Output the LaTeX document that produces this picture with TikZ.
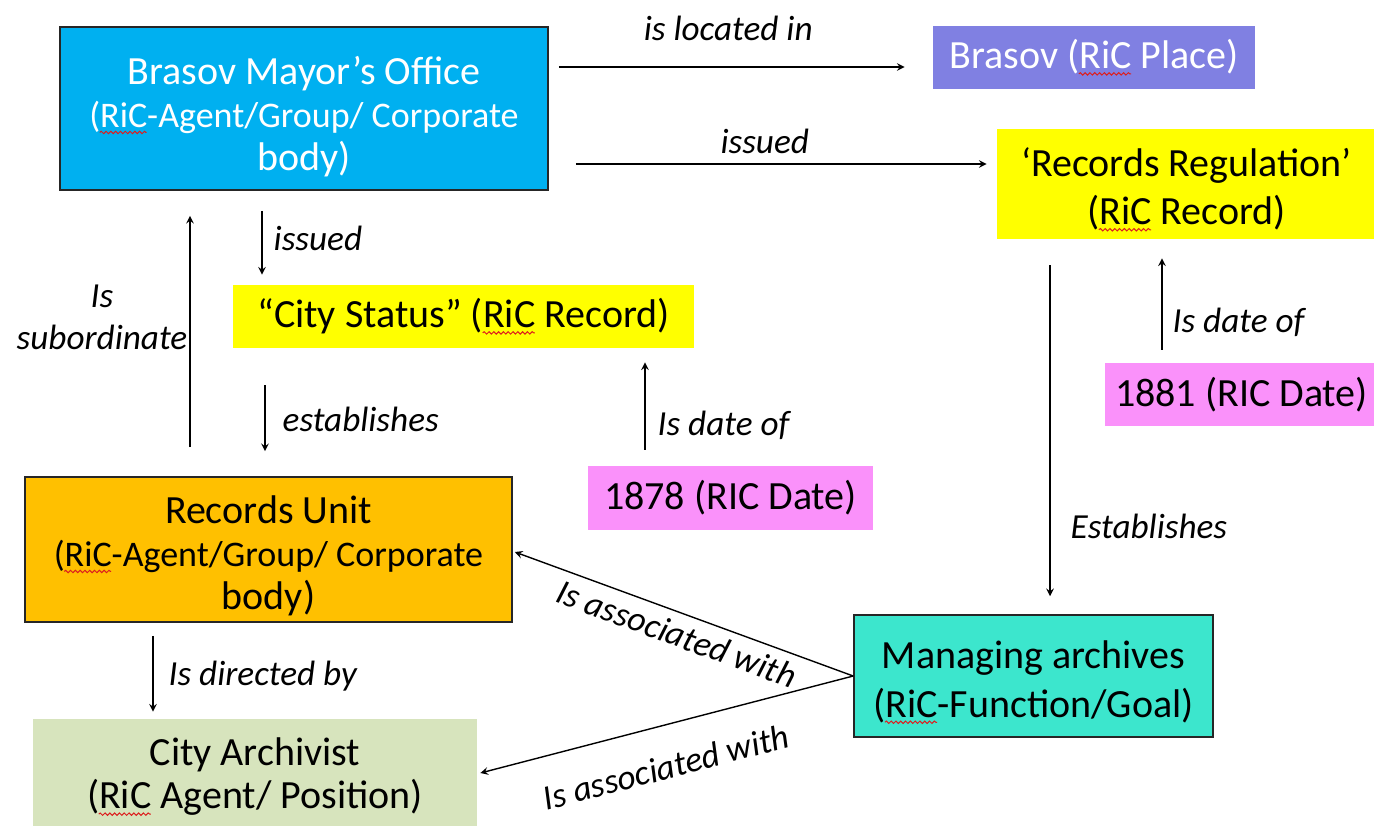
\documentclass[tikz,border=0pt]{standalone}
\usepackage{fontspec}
\setmainfont{Carlito}
\usepackage{xcolor}
\usepackage{tikz}
\usetikzlibrary{positioning,arrows,decorations.pathmorphing}
\definecolor{mayorblue}{RGB}{0,176,240}
\definecolor{placeviolet}{RGB}{128,128,226}
\definecolor{recyellow}{RGB}{255,255,0}
\definecolor{datepink}{RGB}{250,145,250}
\definecolor{unitorange}{RGB}{255,192,0}
\definecolor{functurq}{RGB}{60,230,205}
\definecolor{postgreen}{RGB}{215,228,189}
\definecolor{spellred}{RGB}{220,30,30}
\newsavebox{\wavebox}
\newcommand{\spellwave}[1]{\sbox{\wavebox}{#1}\usebox{\wavebox}\llap{\tikz[x=1pt,y=1pt,baseline=0pt]
  \draw[spellred,line width=0.5pt,decorate,decoration={snake,amplitude=0.6pt,segment length=2.4pt}]
  (0,-2.6) -- (\the\wd\wavebox,-2.6);}}
\newcommand{\topgap}[1]{\rule{0pt}{#1}}
\newcommand{\sublines}{\fontsize{18}{21.5}\selectfont}

\begin{document}
\begin{tikzpicture}[
    x=0.5pt,y=-0.5pt,
    box/.style={align=center,inner sep=1pt,font=\fontsize{20}{21.5}\selectfont},
    edged/.style={box,draw=black!85,line width=0.8pt},
    arrow/.style={->,>=stealth,line width=0.7pt},
    lbl/.style={inner sep=0pt,font=\fontsize{17.6}{21}\selectfont\itshape}
  ]
    \path[use as bounding box,clip] (0,0) rectangle (1374,825);
    % entities
    \node[edged,fill=mayorblue,text=white,minimum width=244pt,minimum height=81.5pt] (mayor) at (304,108.5)
      {\topgap{22pt}Brasov Mayor’s Office\\\sublines(\spellwave{RiC}-Agent/Group/ Corporate\\body)};
    \node[box,fill=placeviolet,text=white,minimum width=161pt,minimum height=31.5pt] (place) at (1094,57.5)
      {Brasov (\spellwave{RiC} Place)};
    \node[box,fill=recyellow,minimum width=189.5pt,minimum height=55pt] (regulation) at (1186.5,184)
      {\topgap{20pt}‘Records Regulation’\\[2.5pt](\spellwave{RiC} Record)};
    \node[box,fill=recyellow,minimum width=230.5pt,minimum height=31.5pt] (citystatus) at (463.5,316.5)
      {“City Status” (\spellwave{RiC} Record)};
    \node[box,fill=datepink,minimum width=136.5pt,minimum height=31.5pt] (date1881) at (1241.5,394.5)
      {1881 (RIC Date)};
    \node[box,fill=datepink,minimum width=142.5pt,minimum height=32pt] (date1878) at (730.5,498)
      {1878 (RIC Date)};
    \node[edged,fill=unitorange,minimum width=243.5pt,minimum height=72.5pt] (unit) at (268.5,549.5)
      {\topgap{20pt}Records Unit\\\sublines(\spellwave{RiC}-Agent/Group/ Corporate\\body)};
    \node[edged,fill=functurq,minimum width=179.5pt,minimum height=61pt] (managing) at (1033.5,676)
      {\topgap{20pt}Managing archives\\[3pt](\spellwave{RiC}-Function/Goal)};
    \node[box,fill=postgreen,minimum width=222pt,minimum height=58pt] (archivist) at (255,777)
      {City Archivist\\(\spellwave{RiC} Agent/ Position)};

    % relations
    \draw[arrow] ([shift={(10,-41.5)}]mayor.east) -- ([shift={(-28,9.5)}]place.west)
      node[lbl,pos=0.49,yshift=19.5pt] {is located in};
    \draw[arrow] ([shift={(27,55.5)}]mayor.east) -- ([shift={(-10,-20)}]regulation.west)
      node[lbl,pos=0.46,yshift=11.5pt] {issued};
    \draw[arrow] ([shift={(-42,20)}]mayor.south) -- ([shift={(-201.5,-10)}]citystatus.north)
      node[lbl,right=5.5pt,pos=0.43] {issued};
    \draw[arrow] ([shift={(-78.5,-29)}]unit.north) -- ([shift={(-114,25)}]mayor.south)
      node[lbl,left=1pt,pos=0.56,align=center] {Is\\subordinate};
    \draw[arrow] ([shift={(-198.5,37)}]citystatus.south) -- ([shift={(-3.5,-25)}]unit.north)
      node[lbl,right=8.5pt,pos=0.52] {establishes};
    \draw[arrow] ([shift={(-85.5,-16)}]date1878.north) -- ([shift={(181.5,14)}]citystatus.south)
      node[lbl,right=6pt,pos=0.28] {Is date of};
    \draw[arrow] ([shift={(-79.5,-13)}]date1881.north) -- ([shift={(-24.5,19)}]regulation.south)
      node[lbl,right=5pt,pos=0.3] {Is date of};
    \draw[arrow] ([shift={(-136.5,26)}]regulation.south) -- ([shift={(16.5,-18)}]managing.north)
      node[lbl,right=10pt,pos=0.79] {Establishes};
    \draw[arrow] (managing.west) -- ([shift={(2,2.5)}]unit.east)
      node[lbl,sloped,below=4pt,pos=0.5] {Is associated with};
    \draw[arrow] (managing.west) -- ([shift={(3,-4)}]archivist.east)
      node[lbl,sloped,below=14pt,pos=0.53] {Is associated with};
    \draw[arrow] ([shift={(-115.5,13)}]unit.south) -- ([shift={(-102,-7)}]archivist.north)
      node[lbl,right=7.5pt,pos=0.53] {Is directed by};
  \end{tikzpicture}
\end{document}
